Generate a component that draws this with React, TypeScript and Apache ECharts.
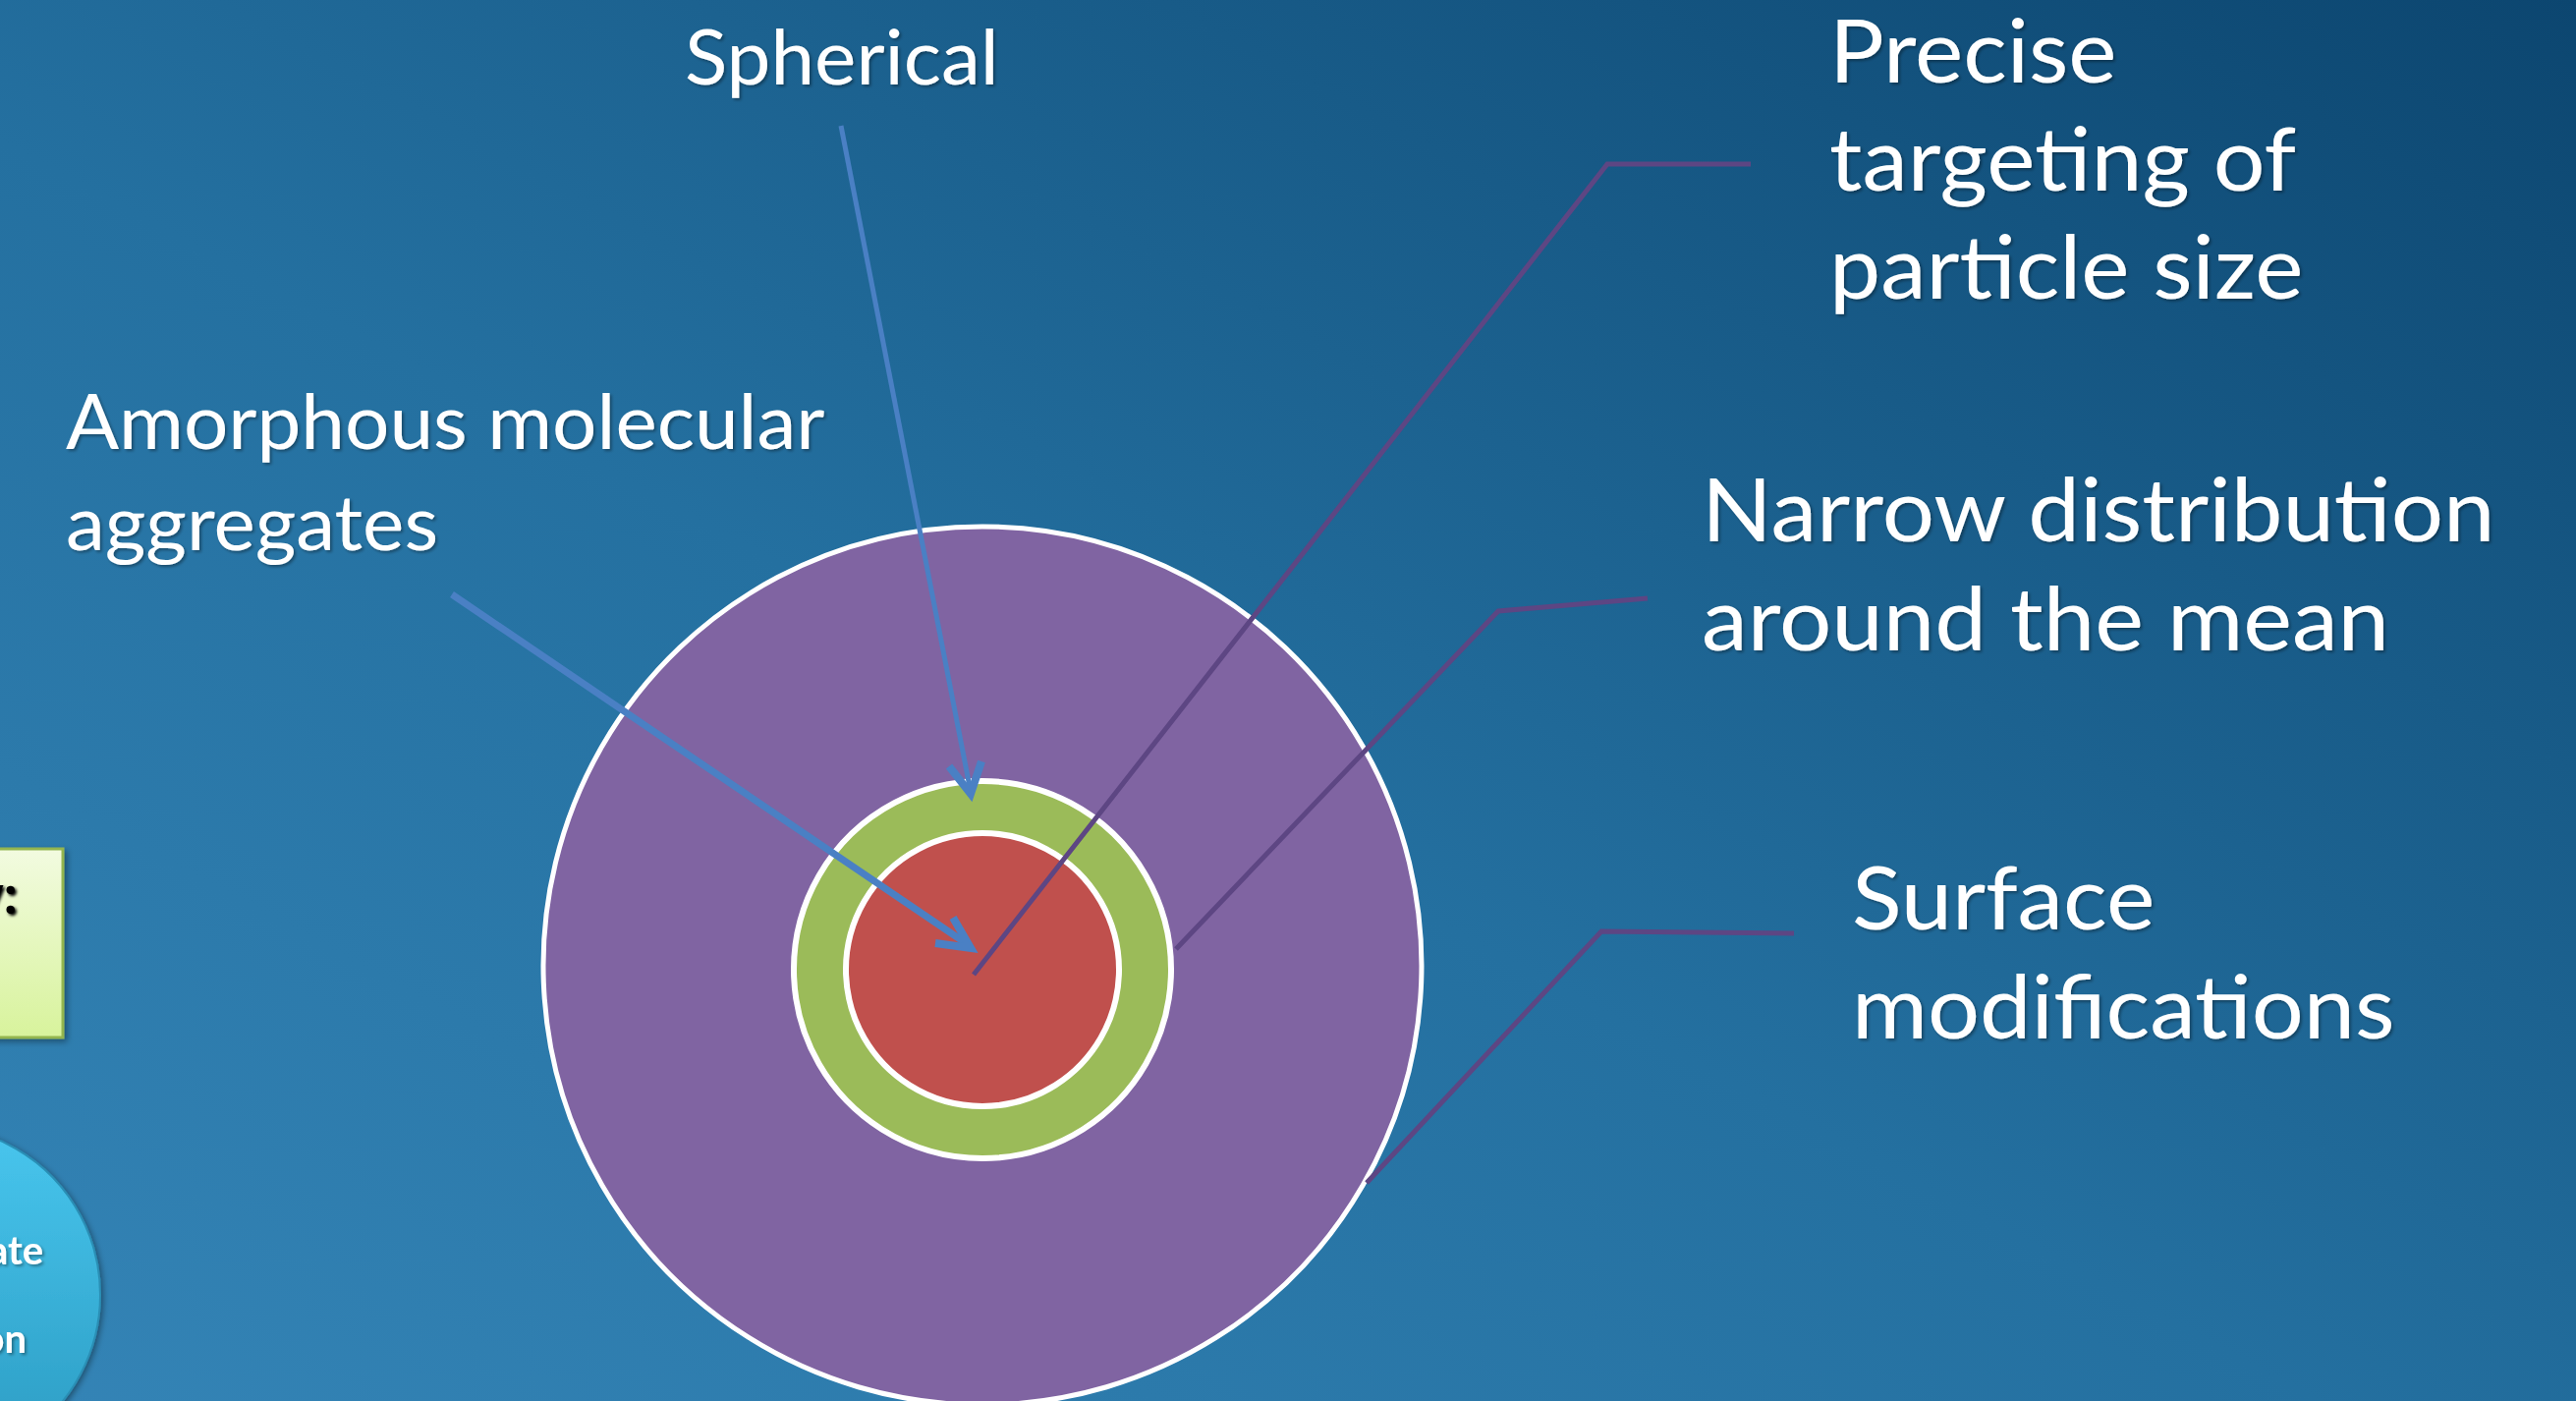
import React, { useEffect, useRef } from "react";
import * as echarts from "echarts";

// ---- data ----
const ringNames = ["Surface layer", "Spherical shell", "Amorphous core"];
const ringValues = [1, 1, 1];
const ringColors = ["#8064a2", "#9bbb59", "#c0504d"];

const labelSpherical = ["Spherical"];
const labelAmorphous = ["Amorphous molecular", "aggregates"];
const labelPrecise = ["Precise", "targeting of", "particle size"];
const labelNarrow = ["Narrow distribution", "around the mean"];
const labelSurface = ["Surface", "modifications"];
const sideBoxText = ["y:"];
const sideCircleText = ["ate", "on"];

const W = 2622;
const H = 1426;
const FONT = "Lato, 'Noto Sans', sans-serif";

function textLines(
  lines: string[],
  x: number,
  baseline0: number,
  lineGap: number,
  size: number,
  opts: any = {}
) {
  return lines.map((t, i) => ({
    type: "text",
    z: 20,
    silent: true,
    x,
    y: baseline0 + i * lineGap - 0.387 * size,
    scaleX: opts.scaleX || 1,
    style: {
      text: t,
      fill: opts.fill || "#ffffff",
      font: `${opts.weight || "normal"} ${size}px ${FONT}`,
      textAlign: opts.align || "left",
      textVerticalAlign: "middle",
      textShadowColor: opts.shadow === false ? "transparent" : "rgba(0,0,0,0.35)",
      textShadowBlur: 3,
      textShadowOffsetX: 2,
      textShadowOffsetY: 2,
    },
  }));
}

function pline(points: number[][], color: string, width: number) {
  return {
    type: "polyline",
    z: 15,
    silent: true,
    shape: { points },
    style: { stroke: color, lineWidth: width, fill: "none", lineJoin: "miter", lineCap: "butt" },
  };
}

export default function App() {
  const ref = useRef<HTMLDivElement>(null);
  useEffect(() => {
    document.body.style.margin = "0";
    const chart = echarts.init(ref.current!, null, { renderer: "svg", width: W, height: H });
    const blue = "#4a80c4";
    const purpleLine = "#5d4683";
    const pieBase = (idx: number, center: number[], r: number, bw: number) => ({
      type: "pie",
      silent: true,
      animation: false,
      center,
      radius: [0, r],
      z: 5 + idx,
      label: { show: false },
      labelLine: { show: false },
      itemStyle: { color: ringColors[idx], borderColor: "#ffffff", borderWidth: bw },
      data: [{ name: ringNames[idx], value: ringValues[idx] }],
    });
    chart.setOption({
      animation: false,
      series: [
        pieBase(0, [1000, 983], 447, 5),
        pieBase(1, [1000, 987], 192, 6),
        pieBase(2, [1000, 987], 139, 6),
      ],
      graphic: [
        {
          type: "rect",
          z: -10,
          silent: true,
          shape: { x: 0, y: 0, width: W, height: H },
          style: {
            fill: new echarts.graphic.LinearGradient(0, 1, 1, 0, [
              { offset: 0, color: "#3484b6" },
              { offset: 0.45, color: "#2470a0" },
              { offset: 1, color: "#0c4670" },
            ]),
          },
        },
        // left partial box
        {
          type: "rect",
          z: 1,
          silent: true,
          shape: { x: -20, y: 864, width: 84, height: 192 },
          style: {
            fill: new echarts.graphic.LinearGradient(0, 0, 0, 1, [
              { offset: 0, color: "#f2fbe0" },
              { offset: 1, color: "#d8f39c" },
            ]),
            stroke: "#93b550",
            lineWidth: 3,
            shadowColor: "rgba(0,0,0,0.35)",
            shadowBlur: 6,
            shadowOffsetX: 3,
            shadowOffsetY: 3,
          },
        },
        ...textLines(sideBoxText, 18, 930, 60, 56, { fill: "#000000", weight: "bold", align: "right", shadow: false }),
        // left partial circle
        {
          type: "circle",
          z: 1,
          silent: true,
          shape: { cx: -70, cy: 1318, r: 172 },
          style: {
            fill: new echarts.graphic.LinearGradient(0, 0, 0, 1, [
              { offset: 0, color: "#48c6ee" },
              { offset: 1, color: "#2b9bc2" },
            ]),
            stroke: "#2a8fb5",
            lineWidth: 2,
            shadowColor: "rgba(0,0,0,0.4)",
            shadowBlur: 6,
            shadowOffsetX: 2,
            shadowOffsetY: 2,
          },
        },
        ...textLines([sideCircleText[0]], 44, 1287, 90, 40, { weight: "bold", align: "right" }),
        ...textLines([sideCircleText[1]], 27, 1377, 90, 40, { weight: "bold", align: "right" }),
        // blue arrows
        pline([[856, 128], [988, 806]], blue, 5),
        pline([[966, 780], [988, 808], [999, 775]], blue, 8),
        pline([[460, 605], [986, 962]], blue, 7),
        pline([[970, 934], [988, 965], [952, 960]], blue, 8),
        // purple leader lines
        pline([[1782, 167], [1636, 167], [991, 992]], purpleLine, 5),
        pline([[1677, 609], [1525, 622], [1197, 966]], purpleLine, 5),
        pline([[1826, 950], [1630, 948], [1391, 1204]], purpleLine, 5),
        // labels
        ...textLines(labelSpherical, 697, 86, 100, 77, { scaleX: 1.04 }),
        ...textLines(labelAmorphous, 67, 457, 103, 77, { scaleX: 1.04 }),
        ...textLines(labelPrecise, 1862, 84, 110, 90, { scaleX: 1.035 }),
        ...textLines(labelNarrow, 1732, 551, 111, 90, { scaleX: 1.045 }),
        ...textLines(labelSurface, 1885, 946, 111, 90, { scaleX: 1.04 }),
      ],
    });
    return () => chart.dispose();
  }, []);
  return <div ref={ref} style={{ position: "fixed", left: 0, top: 0, width: W, height: H }} />;
}
